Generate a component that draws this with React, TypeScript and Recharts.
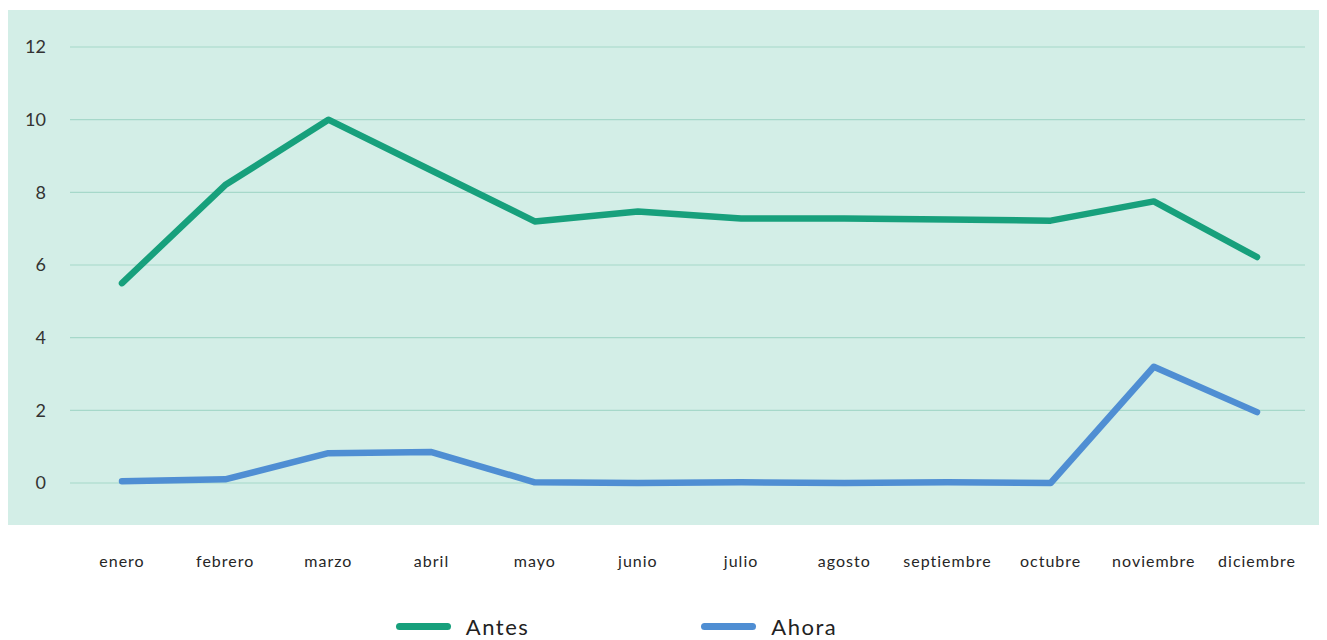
import React from 'react';
import { LineChart, Line, XAxis, YAxis, CartesianGrid, Legend } from 'recharts';

const months = ['enero', 'febrero', 'marzo', 'abril', 'mayo', 'junio', 'julio', 'agosto', 'septiembre', 'octubre', 'noviembre', 'diciembre'];
const antes = [5.5, 8.2, 10, 8.6, 7.2, 7.47, 7.28, 7.28, 7.25, 7.22, 7.75, 6.22];
const ahora = [0.05, 0.1, 0.82, 0.85, 0.02, 0, 0.02, 0, 0.02, 0, 3.2, 1.95];
const yTicks = [0, 2, 4, 6, 8, 10, 12];

const seriesKeys = ['antes', 'ahora'];
const seriesNames: Record<string, string> = { antes: 'Antes', ahora: 'Ahora' };
const colors: Record<string, string> = { antes: '#17a07c', ahora: '#4f8ed3' };

const data = months.map((m, i) => ({ month: m, antes: antes[i], ahora: ahora[i] }));

const FONT = 'Lato, "Noto Sans", sans-serif';

const LegendContent = () => (
  <div style={{ height: 34, display: 'flex', justifyContent: 'center', alignItems: 'center', paddingRight: 80, paddingTop: 6, boxSizing: 'border-box' }}>
    {seriesKeys.map((k, i) => (
      <div key={k} style={{ display: 'flex', alignItems: 'center', marginRight: i === 0 ? 172 : 0 }}>
        <div style={{ width: 55, height: 7, borderRadius: 4, background: colors[k], marginRight: 15 }} />
        <span style={{ fontFamily: FONT, fontSize: 22, color: '#222', letterSpacing: 1.5 }}>{seriesNames[k]}</span>
      </div>
    ))}
  </div>
);

export default function App() {
  return (
    <div style={{ position: 'relative', width: 1312, height: 632 }}>
      <div style={{ position: 'absolute', left: 0, top: 2, width: 1312, height: 515, background: '#d3eee7' }} />
      <div style={{ position: 'absolute', left: 0, top: 0 }}>
        <LineChart width={1312} height={632} data={data} margin={{ top: 39, right: 15, left: 0, bottom: 0 }}>
          <CartesianGrid vertical={false} stroke="#a6d8ca" strokeWidth={1.2} />
          <XAxis
            dataKey="month"
            axisLine={false}
            tickLine={false}
            padding={{ left: 52, right: 48 }}
            height={123}
            tickMargin={67}
            interval={0}
            tick={{ fill: '#262626', fontSize: 16, fontFamily: FONT, letterSpacing: 1 }}
          />
          <YAxis
            domain={[0, 12]}
            ticks={yTicks}
            axisLine={false}
            tickLine={false}
            width={62}
            tickMargin={18}
            tick={{ fill: '#333', fontSize: 18, fontFamily: FONT }}
          />
          <Legend verticalAlign="bottom" content={<LegendContent />} />
          <Line type="linear" dataKey="antes" name={seriesNames.antes} stroke={colors.antes} strokeWidth={6.5} strokeLinecap="round" strokeLinejoin="round" dot={false} activeDot={false} isAnimationActive={false} />
          <Line type="linear" dataKey="ahora" name={seriesNames.ahora} stroke={colors.ahora} strokeWidth={6.5} strokeLinecap="round" strokeLinejoin="round" dot={false} activeDot={false} isAnimationActive={false} />
        </LineChart>
      </div>
    </div>
  );
}
